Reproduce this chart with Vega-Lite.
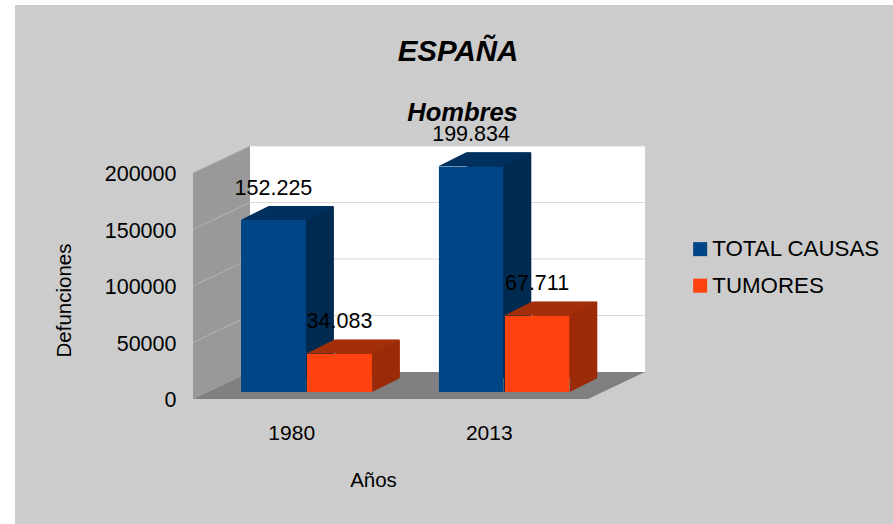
{
"$schema":"https://vega.github.io/schema/vega-lite/v6.json",
"width":395,"height":226,
"autosize":{"type":"none"},
"padding":{"left":193,"top":173,"right":305,"bottom":125},
"background":"#ffffff",
"config":{"view":{"stroke":null},"font":"Liberation Sans"},
"title":{"text":"ESPAÑA","anchor":"middle","frame":"group","dx":67.5,"offset":-62,"font":"Liberation Sans","fontSize":29.5,"fontWeight":"bold","fontStyle":"italic","color":"#000000"},
"resolve":{"scale":{"x":"independent","y":"independent"},"axis":{"x":"independent","y":"independent"}},
"datasets":{"bars":[
{"anio":"1980","serie":"TOTAL CAUSAS","valor":152225,"etiqueta":"152.225"},
{"anio":"1980","serie":"TUMORES","valor":34083,"etiqueta":"34.083"},
{"anio":"2013","serie":"TOTAL CAUSAS","valor":199834,"etiqueta":"199.834"},
{"anio":"2013","serie":"TUMORES","valor":67711,"etiqueta":"67.711"}
],"zero":[{"valor":0}],"grid":[{"valor":50000},{"valor":100000},{"valor":150000},{"valor":200000}],"sub":[{"valor":200000,"titulo":"Hombres"}]},
"data":{"name":"bars"},
"layer":[
{"data":{"name":"zero"},"mark":{"type":"point","filled":true,"opacity":1,"size":4,"strokeWidth":0,"fill":"#cccccc","shape":"M-375.5 -394H502.5V125H-375.5Z"},"encoding":{"y":{"field":"valor","type":"quantitative","scale":{"domain":[0,200000],"nice":false},"axis":null}}},
{"data":{"name":"zero"},"mark":{"type":"point","filled":true,"opacity":1,"size":4,"strokeWidth":0,"fill":"#ffffff","shape":"M-140.5 -253H254.5V-27H-140.5Z"},"encoding":{"y":{"field":"valor","type":"quantitative","scale":{"domain":[0,200000],"nice":false},"axis":null}}},
{"data":{"name":"zero"},"mark":{"type":"point","filled":true,"opacity":1,"size":4,"strokeWidth":0,"fill":"#999999","shape":"M-197.5 0L-140.5 -27V-253L-197.5 -226Z"},"encoding":{"y":{"field":"valor","type":"quantitative","scale":{"domain":[0,200000],"nice":false},"axis":null}}},
{"data":{"name":"zero"},"mark":{"type":"point","filled":true,"opacity":1,"size":4,"strokeWidth":0,"fill":"#808080","shape":"M-197.5 0H197.5L254.5 -27H-140.5Z"},"encoding":{"y":{"field":"valor","type":"quantitative","scale":{"domain":[0,200000],"nice":false},"axis":null}}},
{"data":{"name":"grid"},"mark":{"type":"point","filled":false,"opacity":1,"size":4,"strokeWidth":1,"stroke":"#b3b3b3","shape":"M-197.5 0L-140.5 -27"},"encoding":{"y":{"field":"valor","type":"quantitative","scale":{"domain":[0,200000],"nice":false},"axis":null}}},
{"data":{"name":"grid"},"mark":{"type":"point","filled":false,"opacity":1,"size":4,"strokeWidth":1,"stroke":"#d9d9d9","shape":"M-140.5 -27H254.5"},"encoding":{"y":{"field":"valor","type":"quantitative","scale":{"domain":[0,200000],"nice":false},"axis":null}}},
{"data":{"name":"sub"},"mark":{"type":"text","dx":72,"yOffset":-60,"fontSize":25.5,"fontWeight":"bold","fontStyle":"italic","color":"#000000","baseline":"middle","align":"center"},"encoding":{"y":{"field":"valor","type":"quantitative","scale":{"domain":[0,200000],"nice":false},"axis":null},"text":{"field":"titulo","type":"nominal"}}},
{"mark":{"type":"bar","cornerRadius":1.5},"encoding":{
"x":{"field":"anio","type":"nominal","scale":{"paddingInner":0.337,"paddingOuter":0.168,"range":[42.75,437.75]},"axis":null},
"xOffset":{"field":"serie","type":"nominal","scale":{"paddingInner":0.015}},
"y":{"field":"valor","type":"quantitative","scale":{"domain":[0,200000],"nice":false,"range":[205,-21]},"axis":null},
"color":{"condition":{"test":"datum.serie=='TUMORES'","value":"#9a2a08"},"value":"#002a50"}}},
{"mark":{"type":"point","filled":true,"opacity":1,"size":4,"strokeWidth":0,"shape":"M32.75 0L60.75 -14H32.75Z"},"encoding":{
"x":{"field":"anio","type":"nominal","scale":{"paddingInner":0.337,"paddingOuter":0.168,"range":[14.75,409.75]},"axis":null},
"xOffset":{"field":"serie","type":"nominal","scale":{"paddingInner":0.015}},
"y":{"datum":0,"type":"quantitative","scale":{"domain":[0,200000],"nice":false,"range":[219,-7]},"axis":null},
"color":{"condition":{"test":"datum.serie=='TUMORES'","value":"#9a2a08"},"value":"#002a50"}}},
{"mark":{"type":"point","filled":true,"opacity":1,"size":4,"strokeWidth":0,"shape":"M-32.75 0L-4.75 -14H60.75L32.75 0Z"},"encoding":{
"x":{"field":"anio","type":"nominal","scale":{"paddingInner":0.337,"paddingOuter":0.168,"range":[14.75,409.75]},"axis":null},
"xOffset":{"field":"serie","type":"nominal","scale":{"paddingInner":0.015}},
"y":{"field":"valor","type":"quantitative","scale":{"domain":[0,200000],"nice":false,"range":[219,-7]},"axis":null},
"color":{"condition":{"test":"datum.serie=='TUMORES'","value":"#a32e0a"},"value":"#00315e"}}},
{"mark":{"type":"bar","cornerRadius":1},"encoding":{
"x":{"field":"anio","type":"nominal","scale":{"paddingInner":0.337,"paddingOuter":0.168,"range":[14.75,409.75]},"axis":null},
"xOffset":{"field":"serie","type":"nominal","scale":{"paddingInner":0.015}},
"y":{"field":"valor","type":"quantitative","scale":{"domain":[0,200000],"nice":false,"range":[219,-7]},"axis":null},
"color":{"field":"serie","type":"nominal","scale":{"domain":["TOTAL CAUSAS","TUMORES"],"range":["#004586","#ff420e"]},"legend":{"title":null,"orient":"none","legendX":496,"legendY":65,"symbolType":"square","symbolSize":196,"symbolStrokeWidth":0,"symbolOpacity":1,"labelFontSize":22.3,"labelColor":"#000000","labelLimit":300,"rowPadding":13.5,"labelOffset":1}}}},
{"mark":{"type":"text","dx":14.75,"yOffset":-38,"fontSize":21.5,"color":"#000000","baseline":"middle","align":"center"},"encoding":{
"x":{"field":"anio","type":"nominal","scale":{"paddingInner":0.337,"paddingOuter":0.168},"axis":{"title":"Años","labelAngle":0,"domain":false,"ticks":false,"grid":false,"zindex":1,"labelFontSize":21,"labelColor":"#000000","labelPadding":23,"titleFontSize":20.5,"titleFontWeight":"normal","titleColor":"#000000","titleX":180,"titleY":71,"titleAnchor":"middle"}},
"xOffset":{"field":"serie","type":"nominal","scale":{"paddingInner":0.015}},
"y":{"field":"valor","type":"quantitative","scale":{"domain":[0,200000],"nice":false},"axis":{"title":"Defunciones","values":[0,50000,100000,150000,200000],"format":"d","domain":false,"ticks":false,"grid":false,"zindex":1,"labelFontSize":21.5,"labelColor":"#000000","labelPadding":17,"labelOffset":1.5,"titleFontSize":20.5,"titleFontWeight":"normal","titleColor":"#000000","titleX":-119,"titleY":127,"titleAnchor":"middle"}},
"text":{"field":"etiqueta","type":"nominal"}}}
]
}
